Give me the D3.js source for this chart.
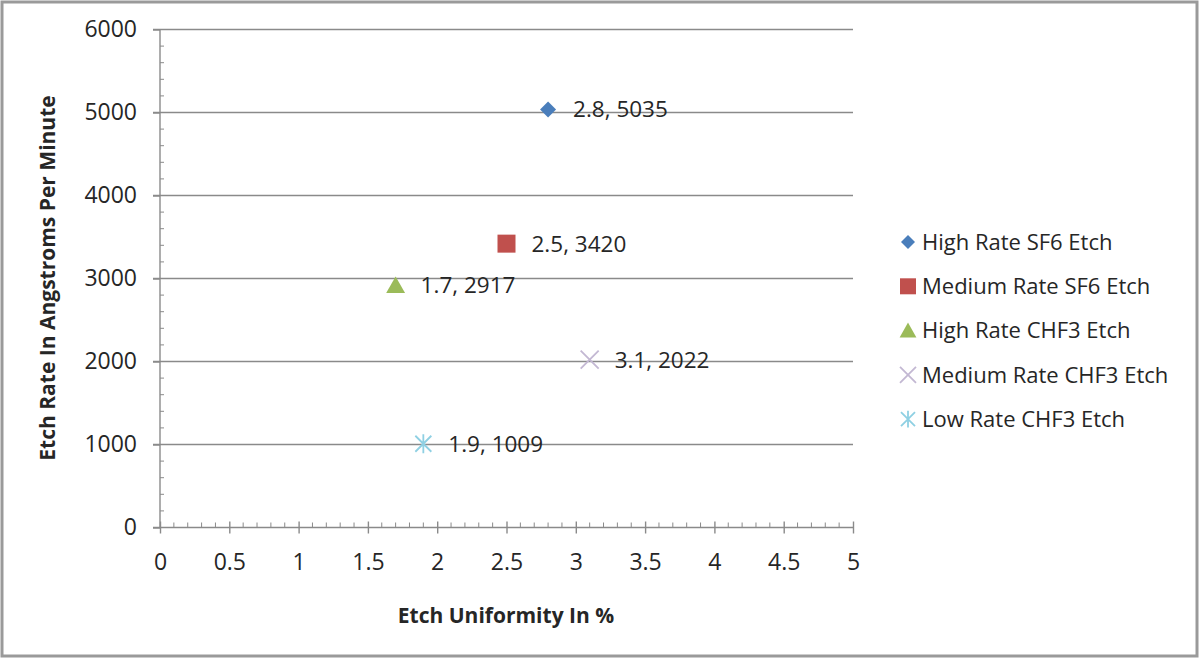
<!DOCTYPE html>
<html><head><meta charset="utf-8">
<script src="https://cdn.jsdelivr.net/npm/d3@7"></script>
<style>
html,body{margin:0;padding:0;background:#fff;}
svg{display:block;}
text{font-family:"Open Sans","Noto Sans",sans-serif;fill:#262626;}
</style></head>
<body><svg id="c" width="1200" height="658"></svg>
<script>
const seriesNames = ["High Rate SF6 Etch","Medium Rate SF6 Etch","High Rate CHF3 Etch","Medium Rate CHF3 Etch","Low Rate CHF3 Etch"];
const xValues = [2.8, 2.5, 1.7, 3.1, 1.9];
const yValues = [5035, 3420, 2917, 2022, 1009];
const seriesColors = ["#4a7ebb","#c0504d","#9bbb59","#c3b8d3","#8fd0e3"];
const seriesShapes = ["diamond","square","triangle","x","star"];
const xTicks = [0,0.5,1,1.5,2,2.5,3,3.5,4,4.5,5];
const yTicks = [0,1000,2000,3000,4000,5000,6000];
const xTitle = "Etch Uniformity In %";
const yTitle = "Etch Rate In Angstroms Per Minute";

const svg = d3.select("#c");
svg.append("rect").attr("x",2).attr("y",2).attr("width",1195).attr("height",654)
  .attr("fill","#fff").attr("stroke","#9a9a9a").attr("stroke-width",3);

const x = d3.scaleLinear().domain([0,5]).range([160,853]);
const y = d3.scaleLinear().domain([0,6000]).range([527.5,29.5]);
const axisCol = "#8a8a8a";

svg.append("g").selectAll("line").data(yTicks.filter(d=>d>0)).join("line")
  .attr("x1",153).attr("x2",853).attr("y1",d=>y(d)).attr("y2",d=>y(d))
  .attr("stroke",axisCol).attr("stroke-width",1.4);

const yMinor = d3.range(0,6001,200).filter(d=>d%1000!==0);
svg.append("g").selectAll("line").data(yMinor).join("line")
  .attr("x1",160).attr("x2",164).attr("y1",d=>y(d)).attr("y2",d=>y(d))
  .attr("stroke",axisCol).attr("stroke-width",1);
const xMinor = d3.range(0,51).map(d=>d/10).filter(d=>Math.round(d*10)%5!==0);
svg.append("g").selectAll("line").data(xMinor).join("line")
  .attr("x1",d=>x(d)).attr("x2",d=>x(d)).attr("y1",y(0)-5).attr("y2",y(0))
  .attr("stroke",axisCol).attr("stroke-width",1);

const yAxis = d3.axisLeft(y).tickValues(yTicks).tickSize(7).tickPadding(16).tickFormat(d3.format("d"));
const gy = svg.append("g").attr("transform","translate(160,0)").call(yAxis);
gy.select(".domain").attr("stroke",axisCol).attr("stroke-width",1.4).attr("d","M0,"+y(6000)+"V"+y(0));
gy.selectAll(".tick line").attr("stroke",axisCol).attr("stroke-width",1.4);
gy.selectAll(".tick text").style("font-size","23px").attr("fill","#262626").attr("font-family",null);

const xAxis = d3.axisBottom(x).tickValues(xTicks).tickSize(6).tickPadding(20).tickFormat(d=>String(d));
const gx = svg.append("g").attr("transform","translate(0,"+y(0)+")").call(xAxis);
gx.select(".domain").attr("stroke",axisCol).attr("stroke-width",1.4).attr("d","M"+(153)+",0H"+x(5));
gx.selectAll(".tick line").attr("stroke",axisCol).attr("stroke-width",1.4).attr("y1",-6);
gx.selectAll(".tick text").style("font-size","23px").attr("fill","#262626").attr("font-family",null);

svg.append("text").attr("x",506).attr("y",623).attr("text-anchor","middle")
  .style("font-size","21px").style("font-weight","bold").text(xTitle);
svg.append("text").attr("transform","translate(55,278) rotate(-90)").attr("text-anchor","middle")
  .style("font-size","21px").style("font-weight","bold").text(yTitle);

function drawMarker(g, shape, color, s){
  if(shape==="diamond"){
    g.append("path").attr("d",`M0,${-s}L${s},0L0,${s}L${-s},0Z`).attr("fill",color);
  } else if(shape==="square"){
    g.append("rect").attr("x",-s).attr("y",-s).attr("width",2*s).attr("height",2*s).attr("fill",color);
  } else if(shape==="triangle"){
    g.append("path").attr("d",`M0,${-s}L${s*1.05},${s*0.85}L${-s*1.05},${s*0.85}Z`).attr("fill",color);
  } else if(shape==="x"){
    g.append("path").attr("d",`M${-s},${-s}L${s},${s}M${-s},${s}L${s},${-s}`).attr("stroke",color).attr("stroke-width",1.8).attr("fill","none");
  } else if(shape==="star"){
    g.append("path").attr("d",`M${-s},${-s}L${s},${s}M${-s},${s}L${s},${-s}M0,${-s*1.2}V${s*1.2}`).attr("stroke",color).attr("stroke-width",1.8).attr("fill","none");
  }
}
const markerSize = [8,9,9,9,8];
const legendSize = [7,8,8,8,7];

xValues.forEach((xv,i)=>{
  const g = svg.append("g").attr("transform",`translate(${x(xv)},${y(yValues[i])})`);
  drawMarker(g, seriesShapes[i], seriesColors[i], markerSize[i]);
  svg.append("text").attr("x",x(xv)+25).attr("y",y(yValues[i])).attr("dy","0.35em")
    .style("font-size","22.5px").text(xv+", "+yValues[i]);
});

seriesNames.forEach((n,i)=>{
  const ly = 242 + i*44.3;
  const g = svg.append("g").attr("transform",`translate(908,${ly})`);
  drawMarker(g, seriesShapes[i], seriesColors[i], legendSize[i]);
  svg.append("text").attr("x",922).attr("y",ly).attr("dy","0.35em")
    .style("font-size","22px").text(n);
});
</script>
</body></html>
